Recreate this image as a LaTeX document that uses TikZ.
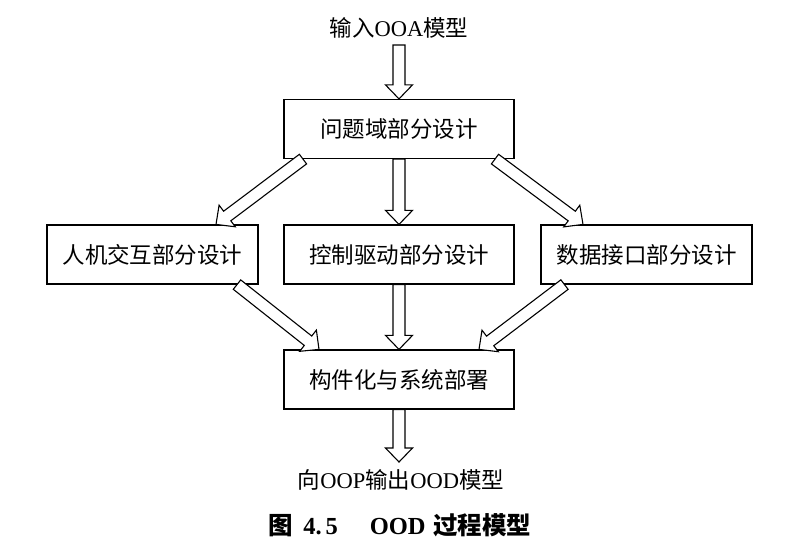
\documentclass[tikz,border=0pt]{standalone}
\usepackage{fontspec}
\setmainfont{Liberation Serif}
\newfontfamily\cjk{Noto Sans CJK SC}
\usetikzlibrary{calc}
\tikzset{
  box/.style={draw, line width=1.2pt, minimum height=59pt, inner sep=0pt,
    font=\cjk\fontsize{22.5}{26}\selectfont},
  blockarr/.style={draw, line width=1.1pt, line join=miter, fill=white},
  lbl/.style={inner sep=0pt, font=\fontsize{22.5}{26}\selectfont},
  captxt/.style={inner sep=0pt, font=\bfseries\fontsize{24.5}{28}\selectfont}
}
\newcommand{\blockarrow}[2]{%
  \coordinate (bm) at ($(#2)!14pt!(#1)$);
  \draw[blockarr] ($(#1)!6pt!90:(#2)$) -- ($(bm)!6pt!-90:(#1)$) -- ($(bm)!13.5pt!-90:(#1)$) -- (#2) -- ($(bm)!13.5pt!90:(#1)$) -- ($(bm)!6pt!90:(#1)$) -- ($(#1)!6pt!-90:(#2)$) -- cycle;}
\begin{document}
\begin{tikzpicture}[x=1pt,y=-1pt]
\path[use as bounding box, fill=white] (0,0) rectangle (796,556);

\node[lbl] (inp) at (399,28) {{\cjk 输入}OOA{\cjk 模型}};
\node[box, minimum width=230pt] (prob) at (399,129) {问题域部分设计};
\node[box, minimum width=211pt] (hci) at (152.5,254.5) {人机交互部分设计};
\node[box, minimum width=230pt] (ctl) at (399,254.5) {控制驱动部分设计};
\node[box, minimum width=211pt] (dat) at (646.5,254.5) {数据接口部分设计};
\node[box, minimum width=230pt] (comp) at (399,379.5) {构件化与系统部署};
\node[lbl] (outp) at (401,480) {{\cjk 向}OOP{\cjk 输出}OOD{\cjk 模型}};
\node[captxt] (capt) at (400,525) {{\cjk 图}\hspace{0.4em}4.\,5\hspace{1.3em}OOD\hspace{0.3em}{\cjk 过程模型}};

\coordinate (inS) at (399,45);
\coordinate (outE) at (399,462);
\coordinate (p1) at ([xshift=-96pt]prob.south);
\coordinate (p3) at ([xshift=96pt]prob.south);
\coordinate (h1) at ([xshift=63.5pt]hci.north);
\coordinate (d1) at ([xshift=-63.5pt]dat.north);
\coordinate (h2) at ([xshift=84.5pt]hci.south);
\coordinate (d2) at ([xshift=-82pt]dat.south);
\coordinate (c1) at ([xshift=-80pt]comp.north);
\coordinate (c3) at ([xshift=80pt]comp.north);

\blockarrow{inS}{prob.north}
\blockarrow{p1}{h1}
\blockarrow{prob.south}{ctl.north}
\blockarrow{p3}{d1}
\blockarrow{h2}{c1}
\blockarrow{ctl.south}{comp.north}
\blockarrow{d2}{c3}
\blockarrow{comp.south}{outE}
\end{tikzpicture}
\end{document}
